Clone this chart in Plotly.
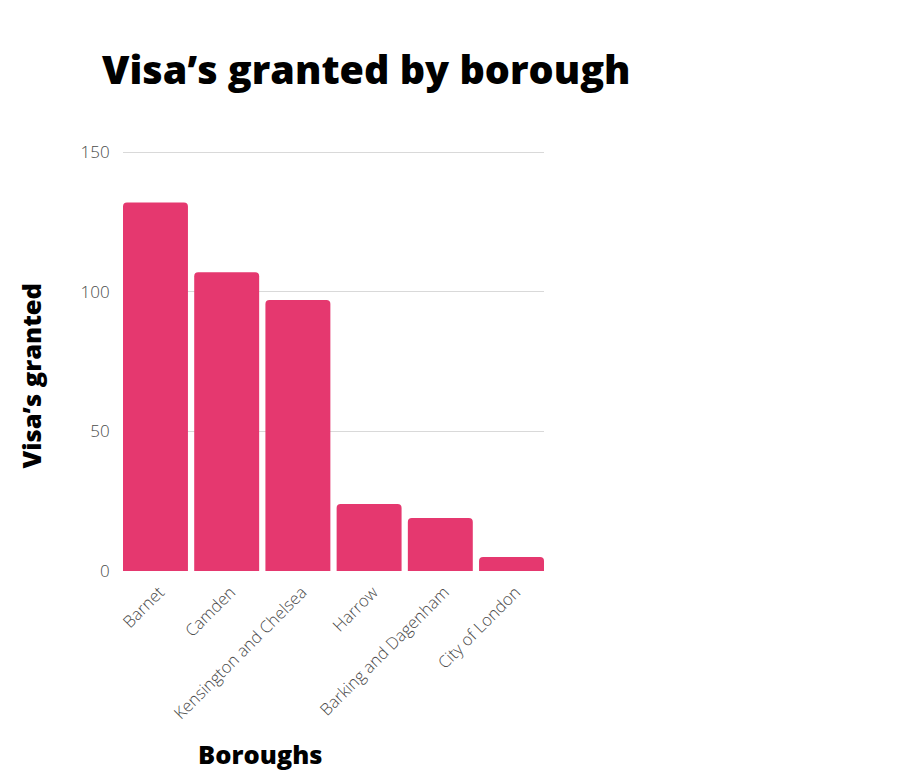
import plotly.graph_objects as go

boroughs = ["Barnet", "Camden", "Kensington and Chelsea", "Harrow",
            "Barking and Dagenham", "City of London"]
visas = [132, 107, 97, 24, 19, 5]
y_ticks = [0, 50, 100, 150]

# page body has an 8px margin, so figure coordinates = screen - 8
W, H = 886, 763
L, T = 115, 143
PR, PB = 536, 563
R, B = W - PR, H - PB
GAP = 0.088

fig = go.Figure(go.Bar(
    x=boroughs, y=visas,
    marker=dict(color="#E5386F", line=dict(width=0)),
))

fig.update_layout(
    width=W, height=H,
    margin=dict(l=L, r=R, t=T, b=B, autoexpand=False),
    paper_bgcolor="white", plot_bgcolor="white",
    bargap=GAP,
    barcornerradius=4,
    showlegend=False,
    font=dict(family="Open Sans", color="#444"),
)

fig.update_yaxes(
    range=[0, 150.4], tickvals=y_ticks,
    showgrid=True, gridcolor="#d9d9d9", gridwidth=1,
    zeroline=False, showline=False,
    ticks="outside", ticklen=9, tickcolor="rgba(0,0,0,0)",
    tickfont=dict(family="Open Sans", size=17, color="#4a4a4a", weight=300),
)
fig.update_xaxes(
    range=[-0.5 + GAP / 2, len(boroughs) - 0.5 - GAP / 2],
    tickangle=-45, showgrid=False, showline=False, zeroline=False,
    ticks="outside", ticklen=4, tickcolor="rgba(0,0,0,0)",
    ticklabelshift=4,
    tickfont=dict(family="Open Sans", size=16.6, color="#4a4a4a", weight=300),
)

PW = PR - L
fig.add_annotation(
    text="Visa’s granted by borough", xref="paper", yref="paper",
    x=(92 - L) / PW, y=1, xanchor="left", yanchor="bottom",
    yshift=53, showarrow=False,
    font=dict(family="Open Sans", size=39.5, color="black", weight=800),
)
fig.add_annotation(
    text="Visa’s granted", xref="paper", yref="paper",
    x=0, y=0.5, xanchor="center", yanchor="middle", xshift=-(L - 22),
    yshift=-14.5, textangle=-90, showarrow=False,
    font=dict(family="Open Sans", size=25.5, color="black", weight=800),
)
fig.add_annotation(
    text="Boroughs", xref="paper", yref="paper",
    x=(252 - L) / PW, y=0, xanchor="center", yanchor="middle",
    yshift=-(746 - PB), showarrow=False,
    font=dict(family="Open Sans", size=25.5, color="black", weight=800),
)

fig.write_html("out.html")
